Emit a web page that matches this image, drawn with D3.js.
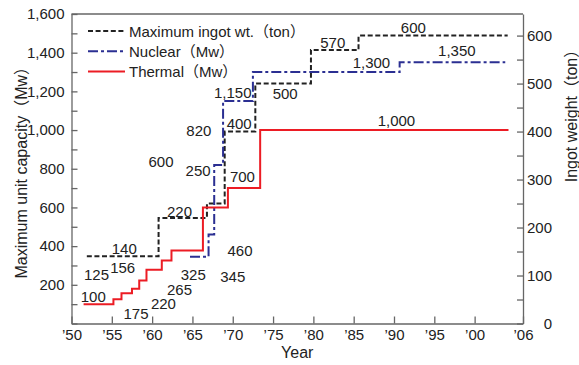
<!DOCTYPE html>
<html>
<head>
<meta charset="utf-8">
<script src="https://cdn.jsdelivr.net/npm/d3@7"></script>
<style>
  body { margin: 0; background: #fff; }
  svg { font-family: "Liberation Sans", Arial, "Noto Sans CJK JP", sans-serif; }
</style>
</head>
<body>
<div id="chart"></div>
<script>
const yearTicks = [1950, 1955, 1960, 1965, 1970, 1975, 1980, 1985, 1990, 1995, 2000, 2006];

const thermalYears = [1951.5, 1955.2, 1956.2, 1957.5, 1958.4, 1959.3, 1961.2, 1962.4, 1966.3, 1969.4, 1973.4, 2004.2];
const thermalMw = [100, 125, 156, 180, 222, 278, 326, 378, 600, 700, 1000, 1000];

const nuclearYears = [1964.7, 1967.0, 1967.7, 1968.8, 1972.5, 1990.7, 2003.8];
const nuclearMw = [345, 460, 820, 1150, 1300, 1350, 1350];

const ingotYears = [1951.9, 1960.8, 1966.8, 1969.0, 1972.8, 1979.7, 1985.6, 2004.1];
const ingotTon = [140, 220, 250, 400, 500, 570, 600, 600];

// value labels, placed in data units (year, left axis Mw)
const noteText = ['100', '125', '156', '140', '175', '220', '265', '325', '345', '460', '220', '250',
  '700', '600', '820', '400', '1,150', '500', '570', '600', '1,300', '1,350', '1,000'];
const noteYear = [1952.7, 1953.1, 1956.35, 1956.55, 1958.0, 1961.4, 1963.4, 1965.1, 1970.0, 1970.9, 1963.4, 1965.7,
  1971.2, 1961.1, 1965.8, 1970.8, 1970.0, 1976.5, 1982.4, 1992.4, 1987.2, 1997.8, 1990.3];
const noteMw = [139, 254, 291, 389, 53, 101, 178, 254, 242, 376, 578, 791,
  759, 840, 998, 1035, 1196, 1190, 1452, 1531, 1348, 1410, 1052];

const legendNames = ['Maximum ingot wt.（ton）', 'Nuclear（Mw）', 'Thermal（Mw）'];

const width = 579, height = 365;
const margin = { top: 14, right: 56, bottom: 41.5, left: 71.5 };
const innerWidth = width - margin.left - margin.right;
const innerHeight = height - margin.top - margin.bottom;

const svg = d3.select('#chart').append('svg')
  .attr('width', width)
  .attr('height', height);

const g = svg.append('g')
  .attr('transform', `translate(${margin.left},${margin.top})`);

const x = d3.scaleLinear().domain([1950, 2006]).range([0, innerWidth]);
const yL = d3.scaleLinear().domain([0, 1600]).range([innerHeight, 0]);
const yR = d3.scaleLinear().domain([0, 645]).range([innerHeight, 0]);

const axisColor = '#666';

// Axes
const left = g.append('g')
  .call(d3.axisLeft(yL)
    .tickValues(d3.range(0, 1601, 100))
    .tickSize(-6).tickSizeOuter(0).tickPadding(7)
    .tickFormat(d => d > 0 && d % 200 === 0 ? d3.format(',')(d) : ''));

const right = g.append('g')
  .attr('transform', `translate(${innerWidth},0)`)
  .call(d3.axisRight(yR)
    .tickValues(d3.range(0, 601, 50))
    .tickSize(-6).tickSizeOuter(0).tickPadding(7)
    .tickFormat(d => d % 100 === 0 ? d : ''));
right.selectAll('text').attr('text-anchor', 'end').attr('x', 29);

const bottom = g.append('g')
  .attr('transform', `translate(0,${innerHeight})`)
  .call(d3.axisBottom(x)
    .tickValues(yearTicks)
    .tickSize(-7).tickSizeOuter(0).tickPadding(6)
    .tickFormat(d => '’' + String(d).slice(2)));

[left, right, bottom].forEach(a => {
  a.selectAll('path, line').attr('stroke', axisColor).attr('stroke-width', 1.3);
  a.selectAll('text').style('font-size', '15px').attr('fill', '#222');
});

g.append('line')
  .attr('x1', 0).attr('x2', innerWidth)
  .attr('y1', 0).attr('y2', 0)
  .attr('stroke', axisColor).attr('stroke-width', 1.3);

// Axis titles
svg.append('text')
  .attr('transform', `translate(21,${margin.top + innerHeight / 2}) rotate(-90)`)
  .attr('text-anchor', 'middle').attr('dominant-baseline', 'central')
  .style('font-size', '16px').attr('fill', '#222')
  .text('Maximum unit capacity（Mw）');

svg.append('text')
  .attr('transform', `translate(571,112) rotate(-90)`)
  .attr('text-anchor', 'middle').attr('dominant-baseline', 'central')
  .style('font-size', '16px').attr('fill', '#222')
  .text('Ingot weight（ton）');

svg.append('text')
  .attr('x', margin.left + x(1978)).attr('y', 358)
  .attr('text-anchor', 'middle')
  .style('font-size', '16px').attr('fill', '#222')
  .text('Year');

// Step lines
const series = [
  { years: ingotYears, values: ingotTon, scale: yR, color: '#222', dash: '5,2.6' },
  { years: nuclearYears, values: nuclearMw, scale: yL, color: '#2b2f92', dash: '10,3,3,3' },
  { years: thermalYears, values: thermalMw, scale: yL, color: '#ec1c24', dash: null }
];

series.forEach(s => {
  const line = d3.line()
    .x(d => x(d[0]))
    .y(d => s.scale(d[1]))
    .curve(d3.curveStepAfter);
  g.append('path')
    .datum(d3.zip(s.years, s.values))
    .attr('fill', 'none')
    .attr('stroke', s.color)
    .attr('stroke-width', 2)
    .attr('stroke-dasharray', s.dash)
    .attr('d', line);
});

// Value labels
g.selectAll('.note')
  .data(d3.zip(noteText, noteYear, noteMw))
  .enter().append('text')
  .attr('x', d => x(d[1]))
  .attr('y', d => yL(d[2]))
  .attr('text-anchor', 'middle')
  .attr('dominant-baseline', 'central')
  .style('font-size', '15px')
  .attr('fill', '#222')
  .text(d => d[0]);

// Legend
const legend = svg.append('g').attr('transform', 'translate(88,31)');
series.forEach((s, i) => {
  legend.append('line')
    .attr('x1', 0).attr('x2', 37)
    .attr('y1', i * 20.3).attr('y2', i * 20.3)
    .attr('stroke', s.color).attr('stroke-width', 2)
    .attr('stroke-dasharray', s.dash);
  legend.append('text')
    .attr('x', 41).attr('y', i * 20.3)
    .attr('dominant-baseline', 'central')
    .style('font-size', '15px').attr('fill', '#222')
    .text(legendNames[i]);
});
</script>
</body>
</html>
